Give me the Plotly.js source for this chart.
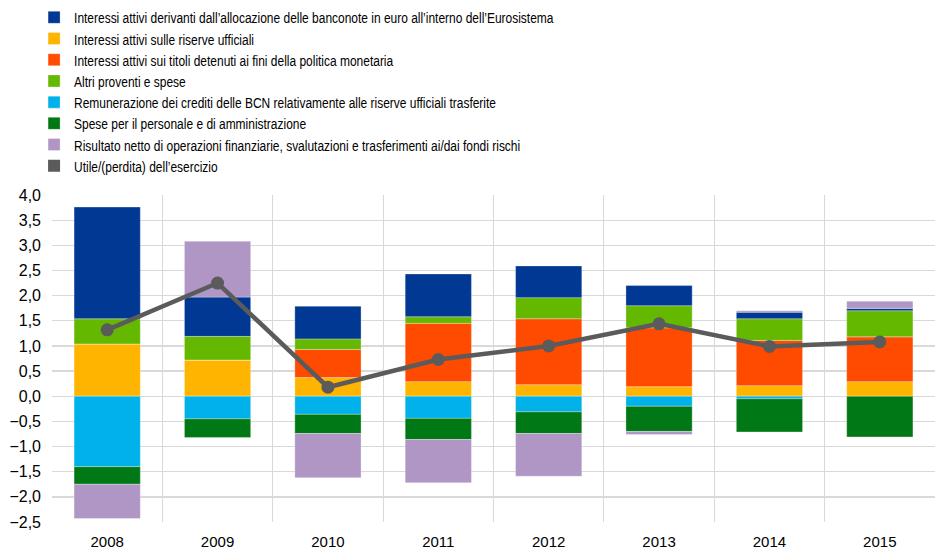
<!DOCTYPE html>
<html>
<head>
<meta charset="utf-8">
<script src="https://cdn.plot.ly/plotly-3.0.1.min.js"></script>
<style>html,body{margin:0;padding:0;background:#fff;}#chart{width:935px;height:549px;}</style>
</head>
<body>
<div id="chart"></div>
<script>
var years = ["2008","2009","2010","2011","2012","2013","2014","2015"];

var nameBanconote = "Interessi attivi derivanti dall\u2019allocazione delle banconote in euro all\u2019interno dell\u2019Eurosistema";
var nameRiserve = "Interessi attivi sulle riserve ufficiali";
var nameTitoli = "Interessi attivi sui titoli detenuti ai fini della politica monetaria";
var nameAltri = "Altri proventi e spese";
var nameRemunerazione = "Remunerazione dei crediti delle BCN relativamente alle riserve ufficiali trasferite";
var nameSpese = "Spese per il personale e di amministrazione";
var nameRisultato = "Risultato netto di operazioni finanziarie, svalutazioni e trasferimenti ai/dai fondi rischi";
var nameUtile = "Utile/(perdita) dell\u2019esercizio";

var banconote     = [2.22, 0.78, 0.65, 0.85, 0.63, 0.40, 0.13, 0.05];
var riserve       = [1.04, 0.72, 0.37, 0.29, 0.23, 0.19, 0.21, 0.29];
var titoli        = [0.00, 0.00, 0.56, 1.16, 1.31, 1.17, 0.90, 0.89];
var altri         = [0.50, 0.47, 0.21, 0.13, 0.42, 0.44, 0.43, 0.52];
var remunerazione = [-1.40, -0.45, -0.36, -0.44, -0.31, -0.20, -0.05, 0.00];
var spese         = [-0.35, -0.37, -0.38, -0.42, -0.43, -0.50, -0.66, -0.81];
var risultato     = [-0.68, 1.11, -0.88, -0.86, -0.85, -0.06, 0.03, 0.14];
var utile         = [1.32, 2.25, 0.18, 0.73, 1.00, 1.44, 0.99, 1.08];

var colors = {
  banconote: "#003893",
  riserve: "#FFB400",
  titoli: "#FF4B00",
  altri: "#65B800",
  remunerazione: "#00B1EA",
  spese: "#007816",
  risultato: "#AF96C5",
  utile: "#5B5B5B"
};

function bar(name, vals, color, rank) {
  return {
    type: "bar", x: years, y: vals, name: name, legendrank: rank,
    marker: {color: color, line: {width: 0.6, color: "rgba(255,255,255,0.5)"}},
    hoverinfo: "y+name"
  };
}

var traces = [
  bar(nameRiserve, riserve, colors.riserve, 2),
  bar(nameTitoli, titoli, colors.titoli, 3),
  bar(nameAltri, altri, colors.altri, 4),
  bar(nameBanconote, banconote, colors.banconote, 1),
  bar(nameRemunerazione, remunerazione, colors.remunerazione, 5),
  bar(nameSpese, spese, colors.spese, 6),
  bar(nameRisultato, risultato, colors.risultato, 7),
  {
    type: "bar", x: [null], y: [null], name: nameUtile, legendrank: 8,
    marker: {color: colors.utile}, hoverinfo: "skip"
  },
  {
    type: "scatter", mode: "lines+markers", x: years, y: utile, name: nameUtile,
    showlegend: false,
    line: {color: colors.utile, width: 4.5},
    marker: {color: colors.utile, size: 13}
  }
];

var layout = {
  width: 935, height: 549,
  margin: {l: 52, r: 0, t: 195, b: 27},
  paper_bgcolor: "#fff", plot_bgcolor: "#fff",
  font: {family: "Liberation Sans, Arial, sans-serif", size: 15, color: "#000"},
  barmode: "relative",
  bargap: 0.4,
  separators: ",.",
  showlegend: true,
  legend: {
    x: -0.0203, xanchor: "left", y: 1.591, yanchor: "top",
    font: {family: "Liberation Sans, Arial, sans-serif", size: 14, color: "#000"},
    bgcolor: "rgba(0,0,0,0)", tracegroupgap: 0, itemwidth: 30,
    traceorder: "normal"
  },
  xaxis: {
    type: "category", tickson: "boundaries", showgrid: true, gridcolor: "#d9d9d9", gridwidth: 1,
    ticks: "", showline: false, zeroline: false, tickfont: {size: 15},
    ticklabelstandoff: 9, automargin: false
  },
  yaxis: {
    range: [-2.5, 4.0], dtick: 0.5, tick0: 0, tickformat: ".1f",
    showgrid: true, gridcolor: "#d9d9d9", gridwidth: 1.3,
    zeroline: true, zerolinecolor: "#d9d9d9", zerolinewidth: 1.3,
    ticks: "", ticklen: 0, tickfont: {size: 16}, showline: false,
    ticklabelstandoff: 10, automargin: false
  }
};

Plotly.newPlot("chart", traces, layout, {displayModeBar: false, staticPlot: true}).then(function (gd) {
  // the reference legend uses a condensed sans face; compress the legend text horizontally
  var texts = gd.querySelectorAll(".legend .legendtext");
  texts.forEach(function (t) {
    var x = parseFloat(t.getAttribute("x")) || 0;
    t.setAttribute("transform", "translate(" + x + ",0) scale(0.855,1.1) translate(" + (-x) + ",0)");
  });
});
</script>
</body>
</html>
